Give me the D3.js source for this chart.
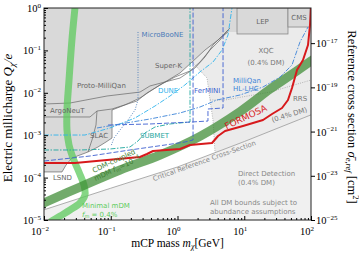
<!DOCTYPE html>
<html>
<head>
<meta charset="utf-8">
<script src="https://cdn.jsdelivr.net/npm/d3@7"></script>
<style>
body { margin: 0; background: #fff; }
svg { display: block; }
.lbl { font-family: "DejaVu Sans", sans-serif; font-size: 7px; }
.serif { font-family: "Liberation Serif", "DejaVu Serif", serif; }
</style>
</head>
<body>
<div id="chart"></div>
<script>
// ---- data: [mass GeV, charge Q/e] ----
var darkRegion = [[0.01,1],[0.01,1.36e-4],[0.0186,1.36e-4],[0.0214,1.98e-4],[0.0262,2.9e-4],
  [0.0346,3.41e-4],[0.0456,4.02e-4],[0.0644,5.27e-4],[0.0849,6.91e-4],[0.1045,8.59e-4],
  [0.1045,3.93e-3],[0.163,5.16e-3],[0.274,7.54e-3],[0.415,0.0116],[0.65,0.018],[1.09,0.0293],
  [1.65,0.0532],[2.58,0.102],[4.05,0.176],[5.71,0.272],[7.79,0.272],[7.79,1]];
var lepBox = [[7.79,0.244],[45.2,1]];
var cmsBox = [[45.2,0.356],[96.6,1]];
var dmRegion = [[1.65,0.0532],[2.77,0.0223],[3.07,6.77e-3],[3.40,2.28e-3],[3.65,3.9e-4],
  [10,7.08e-4],[100,3.02e-3],[100,0.356],[45.2,0.356],[45.2,0.244],[7.79,0.244],[7.79,0.272],
  [5.71,0.272],[4.05,0.176],[2.58,0.102],[1.65,0.0532]];
var xqcEdge = [[1.65,0.0532],[2.77,0.0223],[3.07,6.77e-3],[3.40,2.28e-3],[3.65,3.9e-4]];
var rrsEdge = [[3.07,6.77e-3],[5.15,6.77e-3],[24.3,0.0104],[100,0.02]];
var critical = [[0.01,1.74e-5],[0.1,5.62e-5],[1,1.78e-4],[10,7.08e-4],[100,3.02e-3]];

var protoMilliQan = [[0.01,5.44e-3],[0.0245,5.74e-3],[0.0879,8.4e-3],[0.274,0.0104],[0.387,0.0145],
  [0.65,0.018],[1.09,0.0223],[1.83,0.0385],[2.58,0.0699],[3.40,0.134],[4.65,0.219],[6.12,0.337]];
var argoNeuT = [[0.01,2.69e-3],[0.0489,2.69e-3],[0.0622,3.72e-3],[0.1045,4.15e-3],[0.247,6.41e-3],
  [0.349,9.9e-3],[0.547,0.0153],[0.918,0.0236],[1.54,0.0327],[2.17,0.0532],[3.07,0.102],[4.34,0.176],[5.71,0.303]];
var slac = [[0.0622,3.72e-3],[0.0601,1.74e-3],[0.0524,7.71e-4],[0.0456,4.02e-4]];

var formosa = [[0.01,2.21e-4],[0.0291,2.21e-4],[0.0879,2.6e-4],[0.274,3.06e-4],[0.349,3.6e-4],
  [0.43,4.24e-4],[1.09,4.73e-4],[1.54,5.87e-4],[3.29,6.55e-4],[4.05,9.58e-4],[5.15,1.26e-3],
  [9.57,1.65e-3],[19.1,2.28e-3],[26.1,3.16e-3],[36.8,4.38e-3],[45.2,6.77e-3],[51.9,0.013],
  [61.7,0.0345],[75.9,0.0594],[90.2,0.134],[96.6,0.397],[100,1]];
var milliQanHL = [[0.0622,1.48e-3],[0.138,1.84e-3],[0.387,2.41e-3],[1.09,3.34e-3],[2.17,4.62e-3],
  [3.91,6.77e-3],[8.63,8.87e-3],[19.1,0.0137],[34.4,0.0236],[51.9,0.0453],[68.4,0.158],[90.2,0.356]];
var dune = [[0.01,1.01e-3],[0.0411,1.01e-3],[0.0975,1.48e-3],[0.231,2.55e-3],[0.46,4.88e-3],
  [0.773,8.4e-3],[1.29,0.0153],[2.17,0.031],[3.40,0.0532],[4.65,0.102],[5.71,0.231],[6.55,1]];
var submet = [[0.01,4.48e-4],[0.0346,4.48e-4],[0.0975,4.73e-4],[0.194,5.27e-4],[0.256,7.3e-4],
  [0.326,1.13e-3],[0.46,1.56e-3],[0.773,1.84e-3],[1.54,2.05e-3],[1.54,1]];
var ferminiA = [[0.091,1.74e-3],[0.387,1.84e-3],[1.65,2.05e-3],[2.86,2.16e-3],[2.86,4.15e-3],
  [4.81,4.38e-3],[4.81,1]];
var ferminiB = [[0.01,2.46e-4],[0.0489,3.23e-4],[0.194,4.48e-4],[0.65,5.87e-4],[1.29,6.91e-4],
  [1.71,7.71e-4],[1.71,1]];
var microBooNE = [[0.256,0.272],[0.256,6.77e-3],[0.231,3.93e-3],[0.181,2.28e-3],[0.138,1.33e-3],
  [0.112,8.59e-4],[0.101,5.56e-4]];

var minimalBand = [[0.0291,1],[0.0262,0.176],[0.0237,0.02],[0.0221,3.93e-3],[0.0221,1.33e-3],
  [0.0237,5.87e-4],[0.0272,2.9e-4],[0.0334,1.36e-4],[0.0397,6.68e-5],[0.0411,3.89e-5],
  [0.0346,2.52e-5],[0.0245,1.72e-5],[0.0174,1.24e-5],[0.0123,8.97e-6]];
var cdmBand = [[0.0081,2.18e-5],[0.01,2.52e-5],[0.0346,6.0e-5],[0.138,1.51e-4],[0.547,3.41e-4],
  [2.17,9.4e-4],[8.63,3.6e-3],[24.3,0.0122],[48.5,0.0255],[100,0.0562],[127,0.0737]];

var xTicks = [1e-2, 1e-1, 1e0, 1e1, 1e2];
var xExp = ['\u22122', '\u22121', '0', '1', '2'];
var yTicks = [1e-5, 1e-4, 1e-3, 1e-2, 1e-1, 1e0];
var yExp = ['\u22125', '\u22124', '\u22123', '\u22122', '\u22121', '0'];
var sigmaTicks = [1e-25, 1e-23, 1e-21, 1e-19, 1e-17];
var sigmaExp = ['\u221225', '\u221223', '\u221221', '\u221219', '\u221217'];

// label text, mass, charge, colour, anchor, rotation, size
var labels = [
  ['MicroBooNE', 0.29, 0.207, '#4a7ab8', 'start', 0, 7],
  ['Super-K', 0.46, 0.0385, '#666', 'start', 0, 7],
  ['Proto-MilliQan', 0.0312, 0.013, '#666', 'start', 0, 7],
  ['ArgoNeuT', 0.0123, 3.34e-3, '#666', 'start', 0, 7],
  ['SLAC', 0.0489, 8.59e-4, '#666', 'start', 0, 7],
  ['LSND', 0.0136, 8.78e-5, '#666', 'start', 0, 7],
  ['DUNE', 0.511, 9.9e-3, '#2fb3ec', 'start', 0, 7],
  ['FerMINI', 1.77, 9.9e-3, '#3d5fd0', 'start', 0, 7],
  ['MilliQan', 6.78, 0.017, '#3d85d8', 'start', 0, 7],
  ['HL-LHC', 6.78, 0.011, '#3d85d8', 'start', 0, 7],
  ['XQC', 21.2, 0.0868, '#777', 'middle', 0, 7],
  ['(0.4% DM)', 21.2, 0.0453, '#777', 'middle', 0, 7],
  ['LEP', 18.8, 0.42, '#666', 'middle', 0, 7],
  ['CMS', 66, 0.521, '#666', 'middle', 0, 7],
  ['RRS', 53.7, 6.41e-3, '#777', 'start', 0, 7],
  ['(0.4% DM)', 48.5, 2.69e-3, '#777', 'middle', -17, 7],
  ['FORMOSA', 11, 2.3e-3, '#d7191c', 'middle', -25, 9],
  ['Critical Reference Cross-Section', 2.58, 2.21e-4, '#888', 'middle', -19.5, 6.8],
  ['Direct Detection', 8.05, 1.09e-4, '#888', 'start', 0, 7],
  ['(0.4% DM)', 8.05, 6.68e-5, '#888', 'start', 0, 7],
  ['All DM bounds subject to', 3.07, 2.26e-5, '#888', 'start', 0, 7],
  ['abundance assumptions', 3.07, 1.39e-5, '#888', 'start', 0, 7],
  ['SUBMET', 0.274, 8.59e-4, '#1fa69e', 'start', 0, 7],
  ['Minimal mDM', 0.037, 1.92e-5, '#5ccc5c', 'start', 0, 7]
];

var W = 359, H = 254,
    L = 44, R = 311, T = 8, B = 220;

var x = d3.scaleLog().domain([1e-2, 1e2]).range([L, R]);
var y = d3.scaleLog().domain([1e-5, 1]).range([B, T]);
var ySigma = d3.scaleLog().domain([1e-25, Math.pow(10, -15.41)]).range([B, T]);

var svg = d3.select('#chart').append('svg')
    .attr('width', W).attr('height', H);

svg.append('clipPath').attr('id', 'plot')
  .append('rect').attr('x', L).attr('y', T).attr('width', R - L).attr('height', B - T);

var line = d3.line().x(d => x(d[0])).y(d => y(d[1]));
var curvy = d3.line().x(d => x(d[0])).y(d => y(d[1])).curve(d3.curveCatmullRom);
var g = svg.append('g').attr('clip-path', 'url(#plot)');

// direct detection region below critical cross-section
g.append('path')
  .attr('d', line(critical.concat([[100, 1e-5], [0.01, 1e-5]])) + 'Z')
  .attr('fill', '#f0f0f0');

// XQC / RRS region
g.append('path').attr('d', line(dmRegion) + 'Z').attr('fill', '#ebebeb');

// accelerator / collider bounds
g.append('path').attr('d', line(darkRegion) + 'Z').attr('fill', '#d9d9d9');
[lepBox, cmsBox].forEach(function(b){
  g.append('rect')
    .attr('x', x(b[0][0])).attr('y', y(b[1][1]))
    .attr('width', x(b[1][0]) - x(b[0][0]))
    .attr('height', y(b[0][1]) - y(b[1][1]))
    .attr('fill', '#d9d9d9').attr('stroke', '#888').attr('stroke-width', 0.8);
});

g.append('path').attr('d', line(darkRegion.slice(1, 20)))
  .attr('fill', 'none').attr('stroke', '#666').attr('stroke-width', 0.7);
[protoMilliQan, argoNeuT, slac].forEach(function(d){
  g.append('path').attr('d', line(d))
    .attr('fill', 'none').attr('stroke', '#666').attr('stroke-width', 0.7);
});

[xqcEdge, rrsEdge].forEach(function(d){
  g.append('path').attr('d', line(d))
    .attr('fill', 'none').attr('stroke', '#999').attr('stroke-width', 0.7)
    .attr('stroke-dasharray', '1,1.3');
});
g.append('path').attr('d', line(critical))
  .attr('fill', 'none').attr('stroke', '#999').attr('stroke-width', 0.8);

// dark matter bands
g.append('path').attr('d', curvy(minimalBand))
  .attr('fill', 'none').attr('stroke', '#5cc95c').attr('stroke-opacity', 0.75)
  .attr('stroke-width', 7);
g.append('path').attr('d', curvy(cdmBand))
  .attr('fill', 'none').attr('stroke', '#3c8a32').attr('stroke-opacity', 0.72)
  .attr('stroke-width', 9);

// projected sensitivities
var proj = [
  [microBooNE, '#4a7ab8', '1,1.5'],
  [dune, '#2fb3ec', '5,1.5,1.5,1.5'],
  [submet, '#1fa69e', '5,1.5,1.5,1.5'],
  [ferminiA, '#3d5fd0', '5,2'],
  [ferminiB, '#3d5fd0', '5,2'],
  [milliQanHL, '#3d85d8', '5,1.5,1.5,1.5']
];
proj.forEach(function(p){
  g.append('path').attr('d', line(p[0]))
    .attr('fill', 'none').attr('stroke', p[1]).attr('stroke-width', 0.9)
    .attr('stroke-dasharray', p[2]);
});
g.append('path').attr('d', line(formosa))
  .attr('fill', 'none').attr('stroke', '#d7191c').attr('stroke-width', 2)
  .attr('stroke-linejoin', 'round');

// labels
labels.forEach(function(l){
  var px = x(l[1]), py = y(l[2]);
  svg.append('text').attr('class', 'lbl')
    .attr('transform', 'translate(' + px + ',' + py + ') rotate(' + l[5] + ')')
    .attr('text-anchor', l[4]).attr('fill', l[3])
    .style('font-size', l[6] + 'px')
    .text(l[0]);
});

// f_m = 0.4 %
var fm = svg.append('text').attr('class', 'lbl').attr('fill', '#5ccc5c')
  .attr('x', x(0.037)).attr('y', y(1.18e-5));
fm.append('tspan').style('font-style', 'italic').text('f');
fm.append('tspan').attr('dy', 1.5).style('font-size', '5px').text('m');
fm.append('tspan').attr('dy', -1.5).text(' = 0.4%');

// CDM-coupled label
var cdm = svg.append('text').attr('class', 'lbl').attr('fill', '#3f7f33')
  .attr('text-anchor', 'middle')
  .attr('transform', 'translate(' + x(0.115) + ',' + y(2.2e-4) + ') rotate(-25)');
cdm.append('tspan').attr('x', 0).attr('y', 0).text('CDM-coupled');
cdm.append('tspan').attr('x', 0).attr('y', 8).text('mDM ');
cdm.append('tspan').style('font-style', 'italic').text('f');
cdm.append('tspan').attr('dy', 1.5).style('font-size', '5px').text('m');
cdm.append('tspan').attr('dy', -1.5).text('=10');
cdm.append('tspan').attr('dy', -3).style('font-size', '5px').text('\u22124');

// frame
svg.append('rect').attr('x', L).attr('y', T).attr('width', R - L).attr('height', B - T)
  .attr('fill', 'none').attr('stroke', '#222').attr('stroke-width', 1);

// axes ticks
function minors(lo, hi){
  var out = [];
  for (var e = lo; e < hi; e++)
    for (var k = 2; k < 10; k++) out.push(k * Math.pow(10, e));
  return out;
}
svg.append('g').attr('transform', 'translate(0,' + B + ')')
  .call(d3.axisBottom(x).tickValues(xTicks).tickSize(-4).tickFormat(''))
  .call(a => a.select('.domain').remove());
svg.append('g').attr('transform', 'translate(0,' + B + ')')
  .call(d3.axisBottom(x).tickValues(minors(-2, 2)).tickSize(-2).tickFormat(''))
  .call(a => a.select('.domain').remove());
svg.append('g').attr('transform', 'translate(' + L + ',0)')
  .call(d3.axisLeft(y).tickValues(yTicks).tickSize(-4).tickFormat(''))
  .call(a => a.select('.domain').remove());
svg.append('g').attr('transform', 'translate(' + L + ',0)')
  .call(d3.axisLeft(y).tickValues(minors(-5, 0)).tickSize(-2).tickFormat(''))
  .call(a => a.select('.domain').remove());
svg.append('g').attr('transform', 'translate(' + R + ',0)')
  .call(d3.axisRight(ySigma).tickValues(sigmaTicks).tickSize(4).tickFormat(''))
  .call(a => a.select('.domain').remove());

function powLabel(sel, exp){
  sel.append('tspan').text('10');
  sel.append('tspan').attr('dy', -4.5).style('font-size', '7px').text(exp);
}
xTicks.forEach(function(v, i){
  var t = svg.append('text').attr('class', 'serif').style('font-size', '10.5px')
    .attr('x', x(v) - 4).attr('y', B + 15).attr('text-anchor', 'middle');
  powLabel(t, xExp[i]);
});
yTicks.forEach(function(v, i){
  var t = svg.append('text').attr('class', 'serif').style('font-size', '10.5px')
    .attr('x', L - 3).attr('y', y(v) + 4).attr('text-anchor', 'end');
  powLabel(t, yExp[i]);
});
sigmaTicks.forEach(function(v, i){
  var t = svg.append('text').attr('class', 'serif').style('font-size', '10.5px')
    .attr('x', R + 5).attr('y', ySigma(v) + 4).attr('text-anchor', 'start');
  powLabel(t, sigmaExp[i]);
});

// axis titles
var xt = svg.append('text').attr('class', 'serif').style('font-size', '11.5px')
  .attr('x', (L + R) / 2).attr('y', 247).attr('text-anchor', 'middle');
xt.append('tspan').text('mCP mass ');
xt.append('tspan').style('font-style', 'italic').text('m');
xt.append('tspan').attr('dy', 2).style('font-size', '8px').style('font-style', 'italic').text('\u03c7');
xt.append('tspan').attr('dy', -2).text('[GeV]');

var yt = svg.append('text').attr('class', 'serif').style('font-size', '13px')
  .attr('text-anchor', 'middle')
  .attr('transform', 'translate(12,' + ((T + B) / 2 + 4) + ') rotate(-90)');
yt.append('tspan').text('Electric millicharge ');
yt.append('tspan').style('font-style', 'italic').text('Q');
yt.append('tspan').attr('dy', 2.5).style('font-size', '9px').style('font-style', 'italic').text('\u03c7');
yt.append('tspan').attr('dy', -2.5).style('font-style', 'italic').text('/e');

var rt = svg.append('text').attr('class', 'serif').style('font-size', '12.5px')
  .attr('text-anchor', 'middle')
  .attr('transform', 'translate(348,' + ((T + B) / 2 + 3) + ') rotate(90)');
rt.append('tspan').text('Reference cross section ');
rt.append('tspan').style('font-style', 'italic').text('\u03c3\u0304');
rt.append('tspan').attr('dy', 2.5).style('font-size', '8.5px').style('font-style', 'italic').text('e,ref');
rt.append('tspan').attr('dy', -2.5).text(' [cm');
rt.append('tspan').attr('dy', -4.5).style('font-size', '8.5px').text('2');
rt.append('tspan').attr('dy', 4.5).text(']');
</script>
</body>
</html>
